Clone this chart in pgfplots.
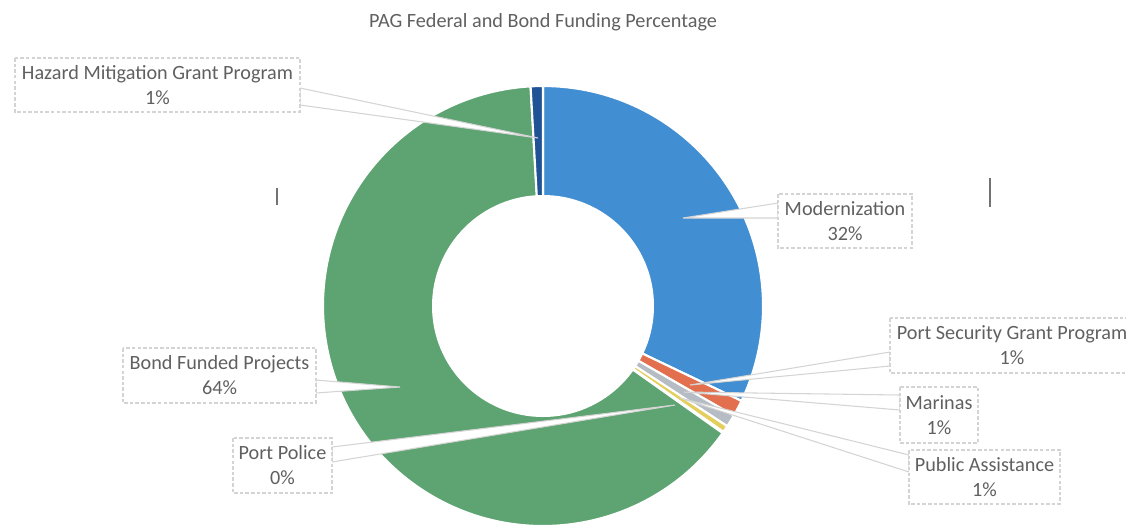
\documentclass[border=0pt]{standalone}
\usepackage{pgfplots}
\pgfplotsset{compat=1.18}
\usepackage{fontspec}
\setmainfont{Carlito}
\definecolor{cMod}{RGB}{66,142,210}
\definecolor{cPSGP}{RGB}{226,112,78}
\definecolor{cMar}{RGB}{182,188,196}
\definecolor{cPA}{RGB}{228,206,92}
\definecolor{cPP}{RGB}{90,130,190}
\definecolor{cBond}{RGB}{94,164,114}
\definecolor{cHMGP}{RGB}{32,82,150}
\definecolor{txtgray}{RGB}{96,96,96}
\definecolor{boxgray}{RGB}{212,212,212}
\newcommand\lblfont{\fontsize{5.75}{7.1}\selectfont}
\begin{document}
\begin{tikzpicture}
\begin{axis}[width=11.26cm,height=5.27cm,scale only axis,hide axis,
  xmin=0,xmax=1126,ymin=0,ymax=527,clip=false]
\addplot[draw=none,mark=none,forget plot] coordinates {(0,0) (1126,527)};
% donut: values in percent, clockwise from 12 o'clock
\pgfplotsextra{%
  \gdef\cum{90}%
  \foreach \v/\c in {32.1/cMod,1.2/cPSGP,0.9/cMar,0.5/cPA,0.1/cPP,64.3/cBond,0.9/cHMGP}{%
    \pgfmathsetmacro\aend{\cum-3.6*\v}%
    \filldraw[fill=\c,draw=white,line width=0.6pt] (axis cs:543,221) -- ++(\cum:2.2cm)
      arc[start angle=\cum,end angle=\aend,radius=2.2cm] -- cycle;
    \xdef\cum{\aend}%
  }%
  \fill[white] (axis cs:543,221) circle[radius=1.11cm];
}
% title
\node[font=\lblfont,text=txtgray] at (axis cs:543,505) {PAG Federal and Bond Funding Percentage};
% scan marks
\draw[black!55,line width=0.6pt] (axis cs:277,339) -- (axis cs:277,322);
\draw[black!55,line width=0.6pt] (axis cs:990,349) -- (axis cs:990,320);
% callouts
\tikzset{wedge/.style={fill=white,draw=boxgray,line width=0.3pt},
         lbox/.style={fill=white,draw=boxgray,dash pattern=on 1pt off 0.6pt,line width=0.3pt},
         ltxt/.style={font=\lblfont,text=txtgray,align=center,inner sep=0pt}}
% HMGP
\draw[wedge] (axis cs:538,389) -- (axis cs:300,439) -- (axis cs:300,422) -- cycle;
\draw[lbox] (axis cs:15,469) rectangle (axis cs:300,415);
\node[ltxt] at (axis cs:157.5,442) {Hazard Mitigation Grant Program\\1\%};
% Modernization
\draw[wedge] (axis cs:683,309) -- (axis cs:778,324) -- (axis cs:778,309) -- cycle;
\draw[lbox] (axis cs:778,333) rectangle (axis cs:912,279);
\node[ltxt] at (axis cs:845,306) {Modernization\\32\%};
% PSGP
\draw[wedge] (axis cs:690,142) -- (axis cs:890,175) -- (axis cs:890,161) -- cycle;
\draw[lbox] (axis cs:890,209) rectangle (axis cs:1140,154);
\node[ltxt] at (axis cs:1012,181.5) {Port Security Grant Program\\1\%};
% Marinas
\draw[wedge] (axis cs:684,135) -- (axis cs:900,132) -- (axis cs:900,117) -- cycle;
\draw[lbox] (axis cs:900,140) rectangle (axis cs:978,84);
\node[ltxt] at (axis cs:939,112) {Marinas\\1\%};
% Public Assistance
\draw[wedge] (axis cs:680,129) -- (axis cs:909,72) -- (axis cs:909,55) -- cycle;
\draw[lbox] (axis cs:909,77) rectangle (axis cs:1060,23);
\node[ltxt] at (axis cs:984.5,50) {Public Assistance\\1\%};
% Bond
\draw[wedge] (axis cs:400,140) -- (axis cs:316,147) -- (axis cs:316,134) -- cycle;
\draw[lbox] (axis cs:123,179) rectangle (axis cs:316,124);
\node[ltxt] at (axis cs:219.5,151.5) {Bond Funded Projects\\64\%};
% Port Police
\draw[wedge] (axis cs:675,122) -- (axis cs:332,80) -- (axis cs:332,65) -- cycle;
\draw[lbox] (axis cs:233,89) rectangle (axis cs:332,34);
\node[ltxt] at (axis cs:282.5,61.5) {Port Police\\0\%};
\end{axis}
\pgfresetboundingbox
\path (current axis.south west) rectangle (current axis.north east);
\end{tikzpicture}
\end{document}
